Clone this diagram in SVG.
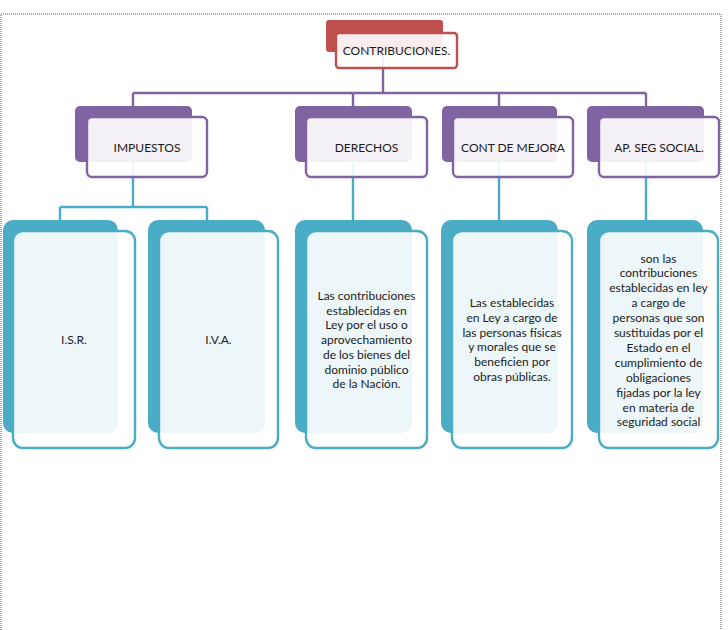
<svg xmlns="http://www.w3.org/2000/svg" width="728" height="630" viewBox="0 0 728 630">
<style>
text{font-family:Lato,"Open Sans","Liberation Sans",sans-serif;font-size:12px;fill:#1b1b1b;text-anchor:middle}
.br{fill:#C0504D}
.fr{fill:#fff;fill-opacity:.9;stroke:#C0504D;stroke-width:2.4}
.bp{fill:#8064A2}
.fp{fill:#fff;fill-opacity:.9;stroke:#8064A2;stroke-width:2.4}
.bt{fill:#4BACC6}
.ft{fill:#fff;fill-opacity:.9;stroke:#4BACC6;stroke-width:2.4}
.cp{fill:none;stroke:#8064A2;stroke-width:2.4}
.ct{fill:none;stroke:#4BACC6;stroke-width:2.4}
</style>
<rect x="1" y="14" width="720" height="630" fill="none" stroke="#555" stroke-width="1" stroke-dasharray="1,1"/>
<g id="connectors">
<path class="cp" d="M383,50V93M133,93H646M133,93V106M353,93V106M499,93V106M646,93V106"/>
<path class="ct" d="M133,147V207M60,207H207M60,207V220M207,207V220M353,147V220M499,147V220M646,147V220"/>
</g>
<g id="contribuciones">
<rect class="br" x="326" y="20" width="117" height="32" rx="3"/>
<rect class="fr" x="336" y="33" width="121" height="35" rx="3"/>
<text x="396.5" y="54.5">CONTRIBUCIONES.</text>
</g>
<g id="impuestos">
<rect class="bp" x="75" y="106" width="117" height="56" rx="5"/>
<rect class="fp" x="87" y="117" width="120" height="60" rx="5"/>
<text x="147" y="151.5">IMPUESTOS</text>
</g>
<g id="derechos">
<rect class="bp" x="295" y="106" width="117" height="56" rx="5"/>
<rect class="fp" x="306" y="117" width="121" height="60" rx="5"/>
<text x="366.5" y="151.5">DERECHOS</text>
</g>
<g id="cont-mejora">
<rect class="bp" x="442" y="106" width="115" height="56" rx="5"/>
<rect class="fp" x="453" y="117" width="120" height="60" rx="5"/>
<text x="513" y="151.5">CONT DE MEJORA</text>
</g>
<g id="ap-seg-social">
<rect class="bp" x="587" y="106" width="117" height="56" rx="5"/>
<rect class="fp" x="599" y="117" width="120" height="60" rx="5"/>
<text x="659" y="151.5">AP. SEG SOCIAL.</text>
</g>
<g id="isr">
<rect class="bt" x="3" y="220" width="115" height="213" rx="10"/>
<rect class="ft" x="13" y="231" width="122" height="217" rx="10"/>
<text x="74" y="344">I.S.R.</text>
</g>
<g id="iva">
<rect class="bt" x="148" y="220" width="117" height="213" rx="10"/>
<rect class="ft" x="159" y="231" width="119" height="217" rx="10"/>
<text x="218.5" y="344">I.V.A.</text>
</g>
<g id="derechos-desc">
<rect class="bt" x="295" y="220" width="117" height="213" rx="10"/>
<rect class="ft" x="306" y="231" width="121" height="217" rx="10"/>
<text x="366.5" y="300">Las contribuciones</text>
<text x="366.5" y="314.7">establecidas en</text>
<text x="366.5" y="329.4">Ley por el uso o</text>
<text x="366.5" y="344.1">aprovechamiento</text>
<text x="366.5" y="358.8">de los bienes del</text>
<text x="366.5" y="373.5">dominio público</text>
<text x="366.5" y="388.2">de la Nación.</text>
</g>
<g id="mejora-desc">
<rect class="bt" x="441" y="220" width="117" height="213" rx="10"/>
<rect class="ft" x="452" y="231" width="120" height="217" rx="10"/>
<text x="512" y="307">Las establecidas</text>
<text x="512" y="321.8">en Ley a cargo de</text>
<text x="512" y="336.6">las personas físicas</text>
<text x="512" y="351.4">y morales que se</text>
<text x="512" y="366.2">beneficien por</text>
<text x="512" y="381">obras públicas.</text>
</g>
<g id="seg-social-desc">
<rect class="bt" x="587" y="220" width="116" height="213" rx="10"/>
<rect class="ft" x="599" y="231" width="119" height="217" rx="10"/>
<text x="658.5" y="262.5">son las</text>
<text x="658.5" y="277.4">contribuciones</text>
<text x="658.5" y="292.3">establecidas en ley</text>
<text x="658.5" y="307.2">a cargo de</text>
<text x="658.5" y="322.1">personas que son</text>
<text x="658.5" y="337">sustituidas por el</text>
<text x="658.5" y="351.9">Estado en el</text>
<text x="658.5" y="366.8">cumplimiento de</text>
<text x="658.5" y="381.7">obligaciones</text>
<text x="658.5" y="396.6">fijadas por la ley</text>
<text x="658.5" y="411.5">en materia de</text>
<text x="658.5" y="426.4">seguridad social</text>
</g>
</svg>
